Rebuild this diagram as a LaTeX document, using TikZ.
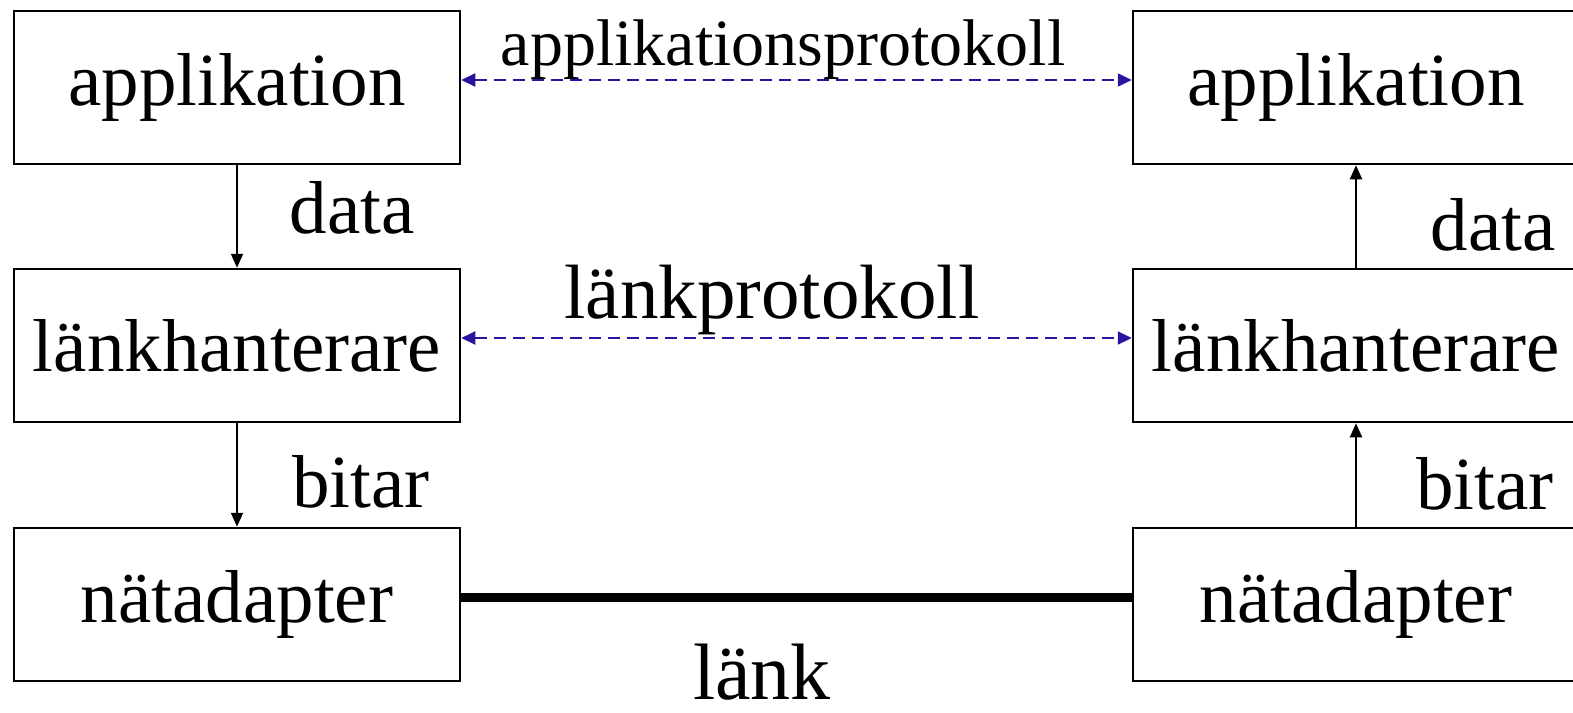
\documentclass[tikz,border=0pt]{standalone}
\usepackage{fontspec}
\setmainfont{Liberation Serif}
\usetikzlibrary{arrows.meta}
\definecolor{protoblue}{RGB}{40,20,160}
\begin{document}
\begin{tikzpicture}[x=1pt,y=-1pt,
  box/.style={draw,line width=2.5pt,minimum width=446pt,minimum height=153pt,inner sep=0pt,font=\fontsize{75}{80}\selectfont},
  lbl/.style={anchor=base,inner sep=0pt,font=\fontsize{75}{80}\selectfont},
  proto/.style={protoblue,line width=2pt,dash pattern=on 12pt off 7pt,{Triangle[length=14pt,width=13pt]}-{Triangle[length=14pt,width=13pt]}},
  flow/.style={black,line width=2pt,-{Triangle[length=14pt,width=12pt]}}]
\useasboundingbox (0,0) rectangle (1573,712);
\clip (0,0) rectangle (1573,712);
\node[box] (la) at (237,87.5) {applikation};
\node[box] (ll) at (237,345.5) {länkhanterare};
\node[box] (ln) at (237,604.5) {nätadapter};
\node[box] (ra) at (1356,87.5) {applikation};
\node[box] (rl) at (1356,345.5) {länkhanterare};
\node[box] (rn) at (1356,604.5) {nätadapter};
\draw[flow] (la) -- (ll);
\draw[flow] (ll) -- (ln);
\draw[flow] (rl) -- (ra);
\draw[flow] (rn) -- (rl);
\draw[proto] ([yshift=7.5pt]la.east) -- ([yshift=7.5pt]ra.west);
\draw[proto] ([yshift=7.5pt]ll.east) -- ([yshift=7.5pt]rl.west);
\draw[line width=9pt] ([yshift=7.5pt]ln.east) -- ([yshift=7.5pt]rn.west);
\node[lbl,font=\fontsize{66}{70}\selectfont] (ap) at (783,65) {applikationsprotokoll};
\node[lbl,font=\fontsize{77}{80}\selectfont] (lp) at (772,318) {länkprotokoll};
\node[lbl,font=\fontsize{80}{90}\selectfont] (lk) at (762,699) {länk};
\node[lbl] (d1) at (352,233) {data};
\node[lbl] (b1) at (361,507) {bitar};
\node[lbl] (d2) at (1493,250) {data};
\node[lbl] (b2) at (1485,509) {bitar};
\end{tikzpicture}
\end{document}
